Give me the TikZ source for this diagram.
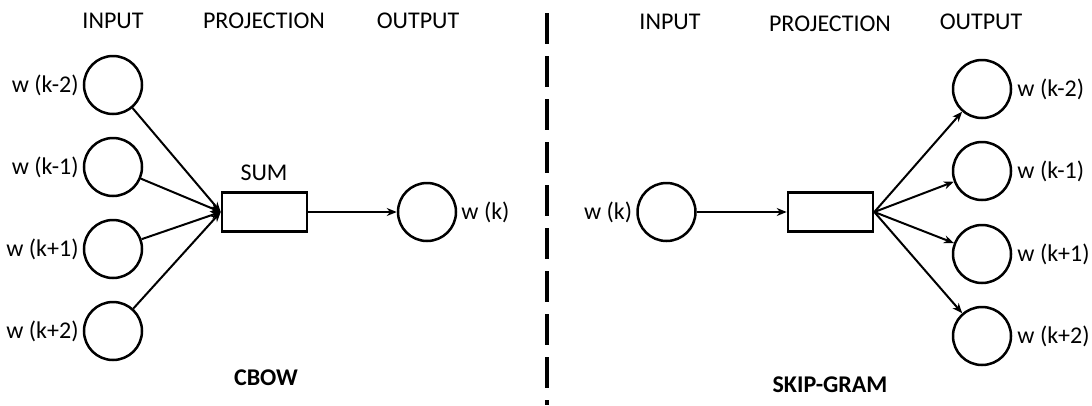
\documentclass[tikz,border=0pt]{standalone}
\usepackage{fontspec}
\setmainfont{Carlito}
\usetikzlibrary{arrows.meta}
\begin{document}
\begin{tikzpicture}[x=1pt,y=-1pt,
  every node/.style={font=\fontsize{24}{28}\selectfont},
  wordnode/.style={circle,draw,line width=2.5pt,minimum size=58pt,inner sep=0pt},
  projbox/.style={rectangle,draw,line width=2.6pt,minimum width=85pt,minimum height=39pt,inner sep=0pt},
  lbl/.style={inner sep=4pt},
  conn/.style={line width=2pt,-{Stealth[length=10pt,width=8pt]}},
  divider/.style={line width=4pt,dash pattern=on 31pt off 12pt}]
\useasboundingbox (0,0) rectangle (1092,405);
% ---- CBOW ----
\node (inL) at (113,21) {INPUT};
\node (prL) at (264,21) {PROJECTION};
\node (ouL) at (418,21) {OUTPUT};
\node[wordnode] (a1) at (113,85) {};
\node[wordnode] (a2) at (113,167) {};
\node[wordnode] (a3) at (113,249) {};
\node[wordnode] (a4) at (113,331) {};
\node[lbl,left] (la1) at (a1.west) {w (k-2)};
\node[lbl,left] (la2) at (a2.west) {w (k-1)};
\node[lbl,left] (la3) at (a3.west) {w (k+1)};
\node[lbl,left] (la4) at (a4.west) {w (k+2)};
\node[projbox] (sum) at (264.5,212) {};
\node (sumlbl) at (264,173) {SUM};
\node[wordnode] (out) at (427,212) {};
\node[lbl,right] (lout) at (out.east) {w (k)};
\coordinate (sumin) at (sum.west);
\foreach \n in {a1,a2,a3,a4} \draw[conn] (\n) -- (sumin);
\draw[conn] (sum.east) -- (out);
\node[font=\fontsize{24}{28}\selectfont\bfseries] (cbow) at (266,378) {CBOW};
% ---- divider ----
\coordinate (dtop) at (547,13);
\coordinate (dbot) at (547,405);
\draw[divider] (dtop) -- (dbot);
% ---- Skip-gram ----
\node (inR) at (670,22) {INPUT};
\node (prR) at (830,24) {PROJECTION};
\node (ouR) at (981,22) {OUTPUT};
\node[wordnode] (win) at (666.5,212) {};
\node[lbl,left] (lwin) at (win.west) {w (k)};
\node[projbox] (proj) at (830.5,212) {};
\draw[conn] (win) -- (proj.west);
\node[wordnode] (b1) at (982,89) {};
\node[wordnode] (b2) at (982,171) {};
\node[wordnode] (b3) at (982,254) {};
\node[wordnode] (b4) at (982,336) {};
\node[lbl,right,inner sep=5pt] (lb1) at (b1.east) {w (k-2)};
\node[lbl,right,inner sep=5pt] (lb2) at (b2.east) {w (k-1)};
\node[lbl,right,inner sep=5pt] (lb3) at (b3.east) {w (k+1)};
\node[lbl,right,inner sep=5pt] (lb4) at (b4.east) {w (k+2)};
\coordinate (projout) at (proj.east);
\foreach \n in {b1,b2,b3,b4} \draw[conn] (projout) -- (\n);
\node[font=\fontsize{24}{28}\selectfont\bfseries] (skip) at (830,385) {SKIP-GRAM};
\end{tikzpicture}
\end{document}
